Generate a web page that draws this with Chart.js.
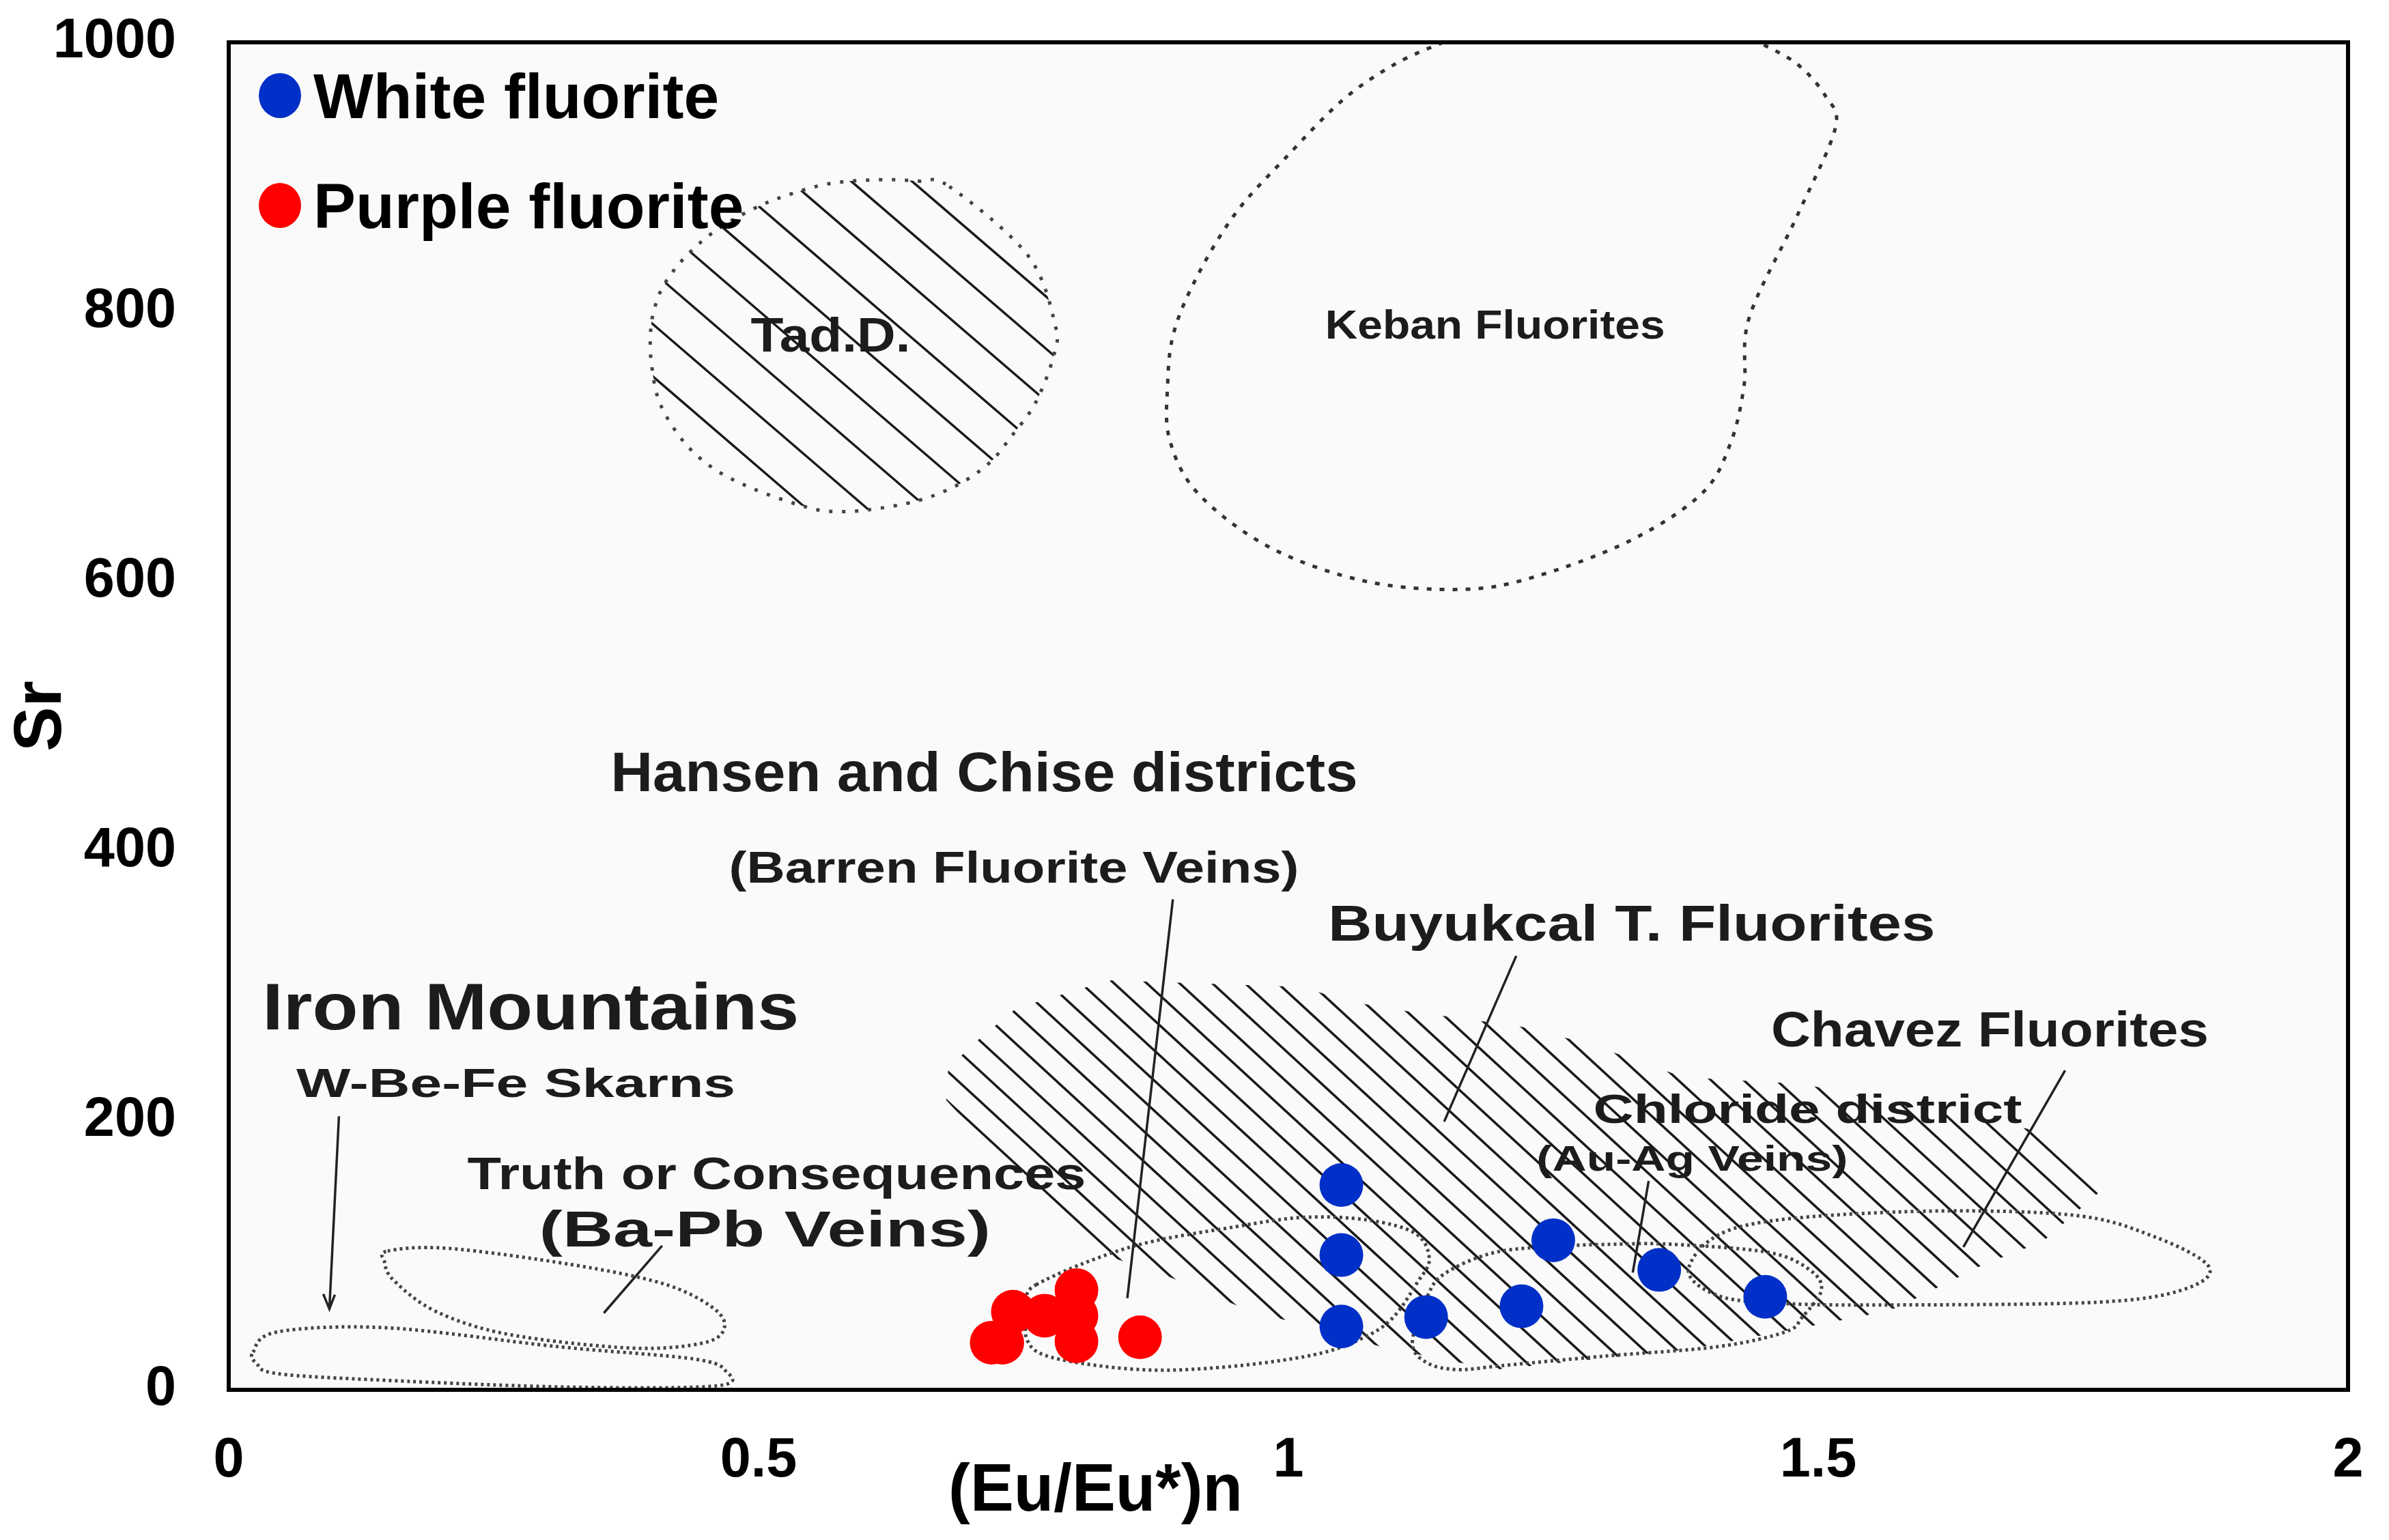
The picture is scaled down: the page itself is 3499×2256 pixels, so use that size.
<!DOCTYPE html>
<html>
<head>
<meta charset="utf-8">
<script src="https://cdn.jsdelivr.net/npm/chart.js@4.4.0/dist/chart.umd.min.js"></script>
<style>html,body{margin:0;padding:0;background:#fff}</style>
</head>
<body>
<canvas id="chart" width="3499" height="2256"></canvas>
<script>
// fluorite samples, (Eu/Eu*)n vs Sr
const whiteX = [1.05, 1.05, 1.05, 1.13, 1.22, 1.25, 1.35, 1.45];
const whiteSr = [152, 100, 47, 54, 62, 111, 89, 69];
const purpleX = [0.72, 0.73, 0.74, 0.77, 0.80, 0.80, 0.80, 0.86];
const purpleSr = [35, 35, 58, 55, 74, 55, 36, 39];

const xTickValues = [0, 0.5, 1, 1.5, 2];
const xTickLabels = ['0', '0.5', '1', '1.5', '2'];
const yTickValues = [0, 200, 400, 600, 800, 1000];
const yTickLabels = ['0', '200', '400', '600', '800', '1000'];

// reference fields, outlines
const tadX = [0.680, 0.754, 0.780, 0.778, 0.761, 0.738, 0.718, 0.689, 0.651, 0.603, 0.566, 0.537, 0.494, 0.459, 0.430, 0.407, 0.399, 0.398, 0.401, 0.410, 0.430, 0.459, 0.494, 0.525, 0.566, 0.611, 0.651];
const tadSr = [893, 842, 790, 766, 732, 707, 688, 672, 660, 653, 652, 657, 669, 683, 703, 732, 761, 783, 800, 819, 840, 860, 876, 886, 895, 898, 897];
const kebanX = [1.146, 1.101, 1.051, 0.997, 0.951, 0.915, 0.892, 0.886, 0.888, 0.915, 0.983, 1.073, 1.164, 1.231, 1.322, 1.390, 1.417, 1.430, 1.435, 1.480, 1.516, 1.507, 1.480, 1.444];
const kebanSr = [1000, 984, 957, 914, 874, 828, 785, 745, 705, 665, 625, 600, 594, 603, 630, 665, 702, 745, 796, 871, 936, 960, 984, 1000];
const buyX = [0.677, 0.679, 0.700, 0.743, 0.831, 1.012, 1.059, 1.112, 1.217, 1.283, 1.373, 1.485, 1.715, 1.773, 1.712, 1.656, 1.575, 1.544, 1.377, 1.195, 1.092, 0.959, 0.881, 0.803];
const buySr = [215, 238, 255, 283, 304, 299, 288, 281, 270, 257, 232, 227, 191, 152, 110, 93, 61, 55, 30, 15, 31, 60, 86, 106];
const hansenX = [0.762, 0.851, 0.950, 1.015, 1.075, 1.120, 1.133, 1.122, 1.098, 1.069, 1.024, 0.941, 0.860, 0.777, 0.753, 0.756];
const hansenSr = [78, 106, 121, 128, 126, 116, 97, 80, 53, 38, 26, 17, 15, 24, 38, 63];
const chlorX = [1.117, 1.131, 1.147, 1.190, 1.239, 1.305, 1.362, 1.453, 1.492, 1.503, 1.485, 1.469, 1.405, 1.298, 1.202, 1.160, 1.131];
const chlorSr = [35, 69, 86, 101, 106, 108, 108, 102, 89, 74, 54, 43, 32, 25, 18, 15, 20];
const chavezX = [1.378, 1.426, 1.575, 1.736, 1.816, 1.869, 1.843, 1.763, 1.575, 1.469, 1.405];
const chavezSr = [91, 121, 132, 130, 114, 91, 74, 65, 63, 64, 70];
const torcX = [0.150, 0.207, 0.323, 0.409, 0.455, 0.468, 0.449, 0.380, 0.265, 0.196, 0.156, 0.147];
const torcSr = [103, 105, 93, 79, 62, 47, 35, 31, 41, 58, 81, 95];
const skarnX = [0.023, 0.046, 0.150, 0.311, 0.438, 0.469, 0.461, 0.323, 0.150, 0.046, 0.026];
const skarnSr = [28, 43, 46, 32, 23, 14, 3, 2, 7, 12, 20];

// leader lines: x1, Sr1, x2, Sr2
const leaders = [
  [0.104, 203, 0.095, 60],
  [0.409, 107, 0.354, 57],
  [0.891, 364, 0.848, 68],
  [1.215, 322, 1.147, 199],
  [1.340, 155, 1.325, 87],
  [1.733, 237, 1.637, 106]
];

const FONT = '"Liberation Sans", Arial, Helvetica, sans-serif';

const regions = [
  { xs: tadX, ys: tadSr, closed: true, smooth: true, dash: [5, 14], lineWidth: 5, color: '#444', hatch: { spacing: 89, slope: 0.86, phase: 48 } },
  { xs: kebanX, ys: kebanSr, closed: false, smooth: true, dash: [7, 12], lineWidth: 5, color: '#333' },
  { xs: buyX, ys: buySr, closed: true, smooth: false, hatch: { spacing: 48, slope: 0.92, phase: 18 } },
  { xs: skarnX, ys: skarnSr, closed: true, smooth: true, dash: [4, 5], lineWidth: 5, color: '#444' },
  { xs: torcX, ys: torcSr, closed: true, smooth: true, dash: [4, 5], lineWidth: 5, color: '#444' },
  { xs: hansenX, ys: hansenSr, closed: true, smooth: true, dash: [4, 5], lineWidth: 5, color: '#444' },
  { xs: chlorX, ys: chlorSr, closed: true, smooth: true, dash: [4, 5], lineWidth: 5, color: '#444' },
  { xs: chavezX, ys: chavezSr, closed: true, smooth: true, dash: [4, 5], lineWidth: 5, color: '#444' }
];

// text: anchor in data units, cap size and drawn width in px
const labels = [
  { text: 'Tad.D.', x: 0.568, y: 783, size: 70, width: 234 },
  { text: 'Keban Fluorites', x: 1.195, y: 791, size: 59, width: 498 },
  { text: 'Hansen and Chise districts', x: 0.713, y: 459, size: 81, width: 1094 },
  { text: '(Barren Fluorite Veins)', x: 0.741, y: 388, size: 64, width: 835 },
  { text: 'Buyukcal T. Fluorites', x: 1.324, y: 347, size: 75, width: 889 },
  { text: 'Iron Mountains', x: 0.285, y: 285, size: 96, width: 786 },
  { text: 'W-Be-Fe Skarns', x: 0.271, y: 228, size: 60, width: 643 },
  { text: 'Truth or Consequences', x: 0.517, y: 161, size: 67, width: 906 },
  { text: '(Ba-Pb Veins)', x: 0.506, y: 120, size: 75, width: 661 },
  { text: 'Chavez Fluorites', x: 1.662, y: 268, size: 73, width: 641 },
  { text: 'Chloride district', x: 1.490, y: 209, size: 60, width: 628 },
  { text: '(Au-Ag Veins)', x: 1.381, y: 172, size: 52, width: 456 },
  { text: '(Eu/Eu*)n', x: 0.818, y: -72, size: 98, width: 431, color: '#000' }
];

function toPx(chart, xs, ys) {
  const sx = chart.scales.x, sy = chart.scales.y;
  return xs.map((v, i) => [sx.getPixelForValue(v), sy.getPixelForValue(ys[i])]);
}

function tracePath(ctx, pts, closed, smooth) {
  const n = pts.length;
  ctx.moveTo(pts[0][0], pts[0][1]);
  if (!smooth) {
    for (let i = 1; i < n; i++) ctx.lineTo(pts[i][0], pts[i][1]);
    if (closed) ctx.closePath();
    return;
  }
  const segs = closed ? n : n - 1;
  for (let i = 0; i < segs; i++) {
    const p0 = pts[closed ? (i - 1 + n) % n : Math.max(i - 1, 0)];
    const p1 = pts[i];
    const p2 = pts[(i + 1) % n];
    const p3 = pts[closed ? (i + 2) % n : Math.min(i + 2, n - 1)];
    ctx.bezierCurveTo(p1[0] + (p2[0] - p0[0]) / 6, p1[1] + (p2[1] - p0[1]) / 6,
      p2[0] - (p3[0] - p1[0]) / 6, p2[1] - (p3[1] - p1[1]) / 6, p2[0], p2[1]);
  }
  if (closed) ctx.closePath();
}

function hatchLines(ctx, pts, h) {
  const xs = pts.map(p => p[0]), ys = pts.map(p => p[1]);
  const top = Math.min(...ys), bottom = Math.max(...ys);
  const left = Math.min(...xs), right = Math.max(...xs);
  ctx.beginPath();
  let c = Math.floor((left - bottom / h.slope - h.phase) / h.spacing) * h.spacing + h.phase;
  for (; c < right - top / h.slope + h.spacing; c += h.spacing) {
    ctx.moveTo(c + top / h.slope, top);
    ctx.lineTo(c + bottom / h.slope, bottom);
  }
  ctx.stroke();
}

const diagramPlugin = {
  id: 'diagram',
  beforeDraw(chart) {
    const ctx = chart.ctx, a = chart.chartArea;
    ctx.save();
    ctx.fillStyle = '#fff';
    ctx.fillRect(0, 0, chart.width, chart.height);
    ctx.fillStyle = '#fafafa';
    ctx.fillRect(a.left, a.top, a.right - a.left, a.bottom - a.top);
    ctx.restore();
  },
  beforeDatasetsDraw(chart) {
    const ctx = chart.ctx, a = chart.chartArea;
    ctx.save();
    ctx.beginPath();
    ctx.rect(a.left, a.top, a.right - a.left, a.bottom - a.top);
    ctx.clip();
    regions.forEach(r => {
      const pts = toPx(chart, r.xs, r.ys);
      if (r.hatch) {
        ctx.save();
        ctx.beginPath();
        tracePath(ctx, pts, true, r.smooth);
        ctx.clip();
        ctx.setLineDash([]);
        ctx.strokeStyle = '#1a1a1a';
        ctx.lineWidth = 3.5;
        hatchLines(ctx, pts, r.hatch);
        ctx.restore();
      }
      if (r.dash) {
        ctx.beginPath();
        tracePath(ctx, pts, r.closed, r.smooth);
        ctx.setLineDash(r.dash);
        ctx.lineWidth = r.lineWidth;
        ctx.strokeStyle = r.color;
        ctx.stroke();
      }
    });
    // leader lines
    ctx.setLineDash([]);
    ctx.strokeStyle = '#222';
    ctx.lineWidth = 3.5;
    leaders.forEach((l, i) => {
      const p = toPx(chart, [l[0], l[2]], [l[1], l[3]]);
      ctx.beginPath();
      ctx.moveTo(p[0][0], p[0][1]);
      ctx.lineTo(p[1][0], p[1][1]);
      if (i === 0) {
        ctx.moveTo(p[1][0] - 9, p[1][1] - 22);
        ctx.lineTo(p[1][0], p[1][1]);
        ctx.lineTo(p[1][0] + 8, p[1][1] - 21);
      }
      ctx.stroke();
    });
    ctx.restore();
  },
  afterDatasetsDraw(chart) {
    const ctx = chart.ctx, a = chart.chartArea;
    const sx = chart.scales.x, sy = chart.scales.y;
    ctx.save();
    labels.forEach(lab => {
      ctx.save();
      ctx.font = 'bold ' + lab.size + 'px ' + FONT;
      const w = ctx.measureText(lab.text).width;
      ctx.translate(sx.getPixelForValue(lab.x), sy.getPixelForValue(lab.y));
      ctx.scale(lab.width / w, 1);
      ctx.textAlign = 'center';
      ctx.textBaseline = 'alphabetic';
      ctx.fillStyle = lab.color || '#1c1c1c';
      ctx.fillText(lab.text, 0, lab.size * 0.358);
      ctx.restore();
    });
    // legend inside the frame
    chart.data.datasets.forEach((ds, i) => {
      const cy = a.top + 78 + i * 161;
      ctx.fillStyle = ds.backgroundColor;
      ctx.beginPath();
      ctx.ellipse(a.left + 75, cy, 31, 33, 0, 0, Math.PI * 2);
      ctx.fill();
      ctx.fillStyle = '#000';
      ctx.font = 'bold 93px ' + FONT;
      ctx.textAlign = 'left';
      ctx.textBaseline = 'alphabetic';
      ctx.fillText(ds.label, a.left + 124, cy + 93 * 0.358);
    });
    ctx.strokeStyle = '#000';
    ctx.lineWidth = 6;
    ctx.strokeRect(a.left, a.top, a.right - a.left, a.bottom - a.top);
    ctx.restore();
  }
};

const ctx = document.getElementById('chart').getContext('2d');
new Chart(ctx, {
  type: 'scatter',
  data: {
    datasets: [
      {
        label: 'White fluorite',
        data: whiteX.map((x, i) => ({ x: x, y: whiteSr[i] })),
        backgroundColor: '#0030c8',
        borderWidth: 0,
        pointRadius: 32
      },
      {
        label: 'Purple fluorite',
        data: purpleX.map((x, i) => ({ x: x, y: purpleSr[i] })),
        backgroundColor: '#ff0000',
        borderWidth: 0,
        pointRadius: 32
      }
    ]
  },
  options: {
    responsive: false,
    devicePixelRatio: 1,
    animation: false,
    events: [],
    layout: { padding: { top: 62, right: 60, left: 0, bottom: 0 } },
    plugins: { legend: { display: false }, tooltip: { enabled: false } },
    scales: {
      x: {
        type: 'linear',
        min: 0,
        max: 2,
        afterBuildTicks: s => { s.ticks = xTickValues.map(v => ({ value: v })); },
        afterFit: s => { s.height = 220; s.paddingLeft = 0; s.paddingRight = 0; },
        grid: { display: false, drawTicks: false },
        border: { display: false },
        ticks: {
          autoSkip: false,
          maxRotation: 0,
          padding: 56,
          color: '#000',
          font: { family: FONT, size: 81, weight: 'bold' },
          callback: (v, i) => xTickLabels[i]
        }
      },
      y: {
        type: 'linear',
        min: 0,
        max: 1000,
        afterBuildTicks: s => { s.ticks = yTickValues.map(v => ({ value: v })); },
        afterFit: s => { s.width = 335; s.paddingTop = 0; s.paddingBottom = 0; },
        grid: { display: false, drawTicks: false },
        border: { display: false },
        title: {
          display: true,
          text: 'Sr',
          color: '#000',
          padding: { top: 3, bottom: 0 },
          font: { family: FONT, size: 98, weight: 'bold' }
        },
        ticks: {
          autoSkip: false,
          padding: 77,
          color: '#000',
          font: { family: FONT, size: 81, weight: 'bold' },
          callback: (v, i) => yTickLabels[i]
        }
      }
    }
  },
  plugins: [diagramPlugin]
});
</script>
</body>
</html>
